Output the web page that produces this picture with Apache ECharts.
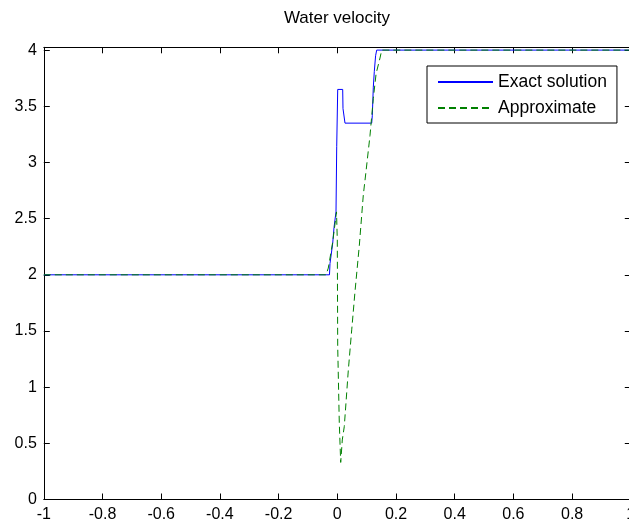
<!DOCTYPE html>
<html>
<head>
<meta charset="utf-8">
<script src="https://cdn.jsdelivr.net/npm/echarts@6/dist/echarts.min.js"></script>
<style>html,body{margin:0;padding:0;background:#fff;}#c{width:629px;height:522px;}</style>
</head>
<body>
<div id="c"></div>
<script>
// Data
const exactX = [-1, -0.0266, -0.0249, -0.0157, -0.0112, -0.0044, -0.0020, 0.0014, 0.0184, 0.0194, 0.0262, 0.1172, 0.1193, 0.1227, 0.1261, 0.1305, 0.1342, 1];
const exactY = [2, 2, 2.10, 2.28, 2.42, 2.56, 3.14, 3.65, 3.65, 3.48, 3.35, 3.35, 3.42, 3.67, 3.81, 3.95, 4.0, 4.0];
const approxX = [-1, -0.0385, -0.0307, -0.0157, -0.0027, 0.0, 0.0014, 0.0068, 0.0116, 0.0170, 0.0238, 0.0375, 0.0491, 0.0606, 0.0750, 0.0886, 0.0978, 0.1114, 0.1227, 0.1322, 0.1455, 0.1513, 1];
const approxY = [2, 2, 2.06, 2.29, 2.56, 2.31, 1.36, 0.68, 0.33, 0.53, 0.65, 1.15, 1.51, 1.86, 2.26, 2.71, 2.92, 3.24, 3.57, 3.79, 3.93, 4.0, 4.0];
const xTicks = [-1, -0.8, -0.6, -0.4, -0.2, 0, 0.2, 0.4, 0.6, 0.8, 1];
const yTicks = [0, 0.5, 1, 1.5, 2, 2.5, 3, 3.5, 4];
const seriesNames = ['Exact solution', 'Approximate'];
const titleText = 'Water velocity';

const FONT = '"Liberation Sans", Arial, sans-serif';
const zip = (xs, ys) => xs.map((x, i) => [x, ys[i]]);
const isTick = (list, v) => list.some(t => Math.abs(t - v) < 1e-6);
const fmt = v => (Math.round(v * 10) / 10).toString();

const axisCommon = {
  axisLine: { show: true, onZero: false, lineStyle: { color: '#000', width: 1 } },
  axisTick: { show: true, inside: true, length: 6, lineStyle: { color: '#000', width: 1 } },
  splitLine: { show: false }
};

const chart = echarts.init(document.getElementById('c'), null, { renderer: 'canvas' });
chart.setOption({
  animation: false,
  backgroundColor: '#fff',
  title: {
    text: titleText, left: 337, top: 10, padding: 0, textAlign: 'center',
    textStyle: { fontFamily: FONT, fontSize: 17, fontWeight: 'normal', color: '#000' }
  },
  grid: { left: 43.8, top: 47.3, width: 587, bottom: 22.5, containLabel: false, outerBoundsMode: 'none' },
  legend: {
    data: seriesNames, orient: 'vertical', left: 427, top: 66,
    padding: [7, 10, 6, 10], itemGap: 8, itemWidth: 55, itemHeight: 16,
    backgroundColor: '#fff', borderColor: '#000', borderWidth: 1, borderRadius: 0,
    textStyle: { fontFamily: FONT, fontSize: 17.5, color: '#000', lineHeight: 16, padding: [0,0,0,0] },
    itemStyle: { opacity: 0 }
  },
  xAxis: [
    Object.assign({}, axisCommon, {
      type: 'value', min: -1, max: 1, interval: 0.2, position: 'bottom',
      axisLabel: { fontFamily: FONT, fontSize: 16, color: '#000', margin: 7,
        formatter: v => isTick(xTicks, v) ? fmt(v) : '' }
    }),
    Object.assign({}, axisCommon, {
      type: 'value', min: -1, max: 1, interval: 0.2, position: 'top',
      axisLabel: { show: false }
    })
  ],
  yAxis: [
    Object.assign({}, axisCommon, {
      type: 'value', min: 0, max: 4.025, interval: 0.5, position: 'left',
      axisLabel: { fontFamily: FONT, fontSize: 16, color: '#000', margin: 7, showMaxLabel: false,
        formatter: v => isTick(yTicks, v) ? fmt(v) : '' }
    }),
    Object.assign({}, axisCommon, {
      type: 'value', min: 0, max: 4.025, interval: 0.5, position: 'right',
      axisLabel: { show: false }
    })
  ],
  series: [
    {
      name: seriesNames[0], type: 'line', data: zip(exactX, exactY),
      symbol: 'none', showSymbol: false,
      lineStyle: { color: '#0000ff', width: 1, type: 'solid' },
      itemStyle: { color: '#0000ff' }
    },
    {
      name: seriesNames[1], type: 'line', data: zip(approxX, approxY),
      symbol: 'none', showSymbol: false,
      lineStyle: { color: '#008000', width: 1, type: [7, 4] },
      itemStyle: { color: '#008000' }
    }
  ]
});
</script>
</body>
</html>
